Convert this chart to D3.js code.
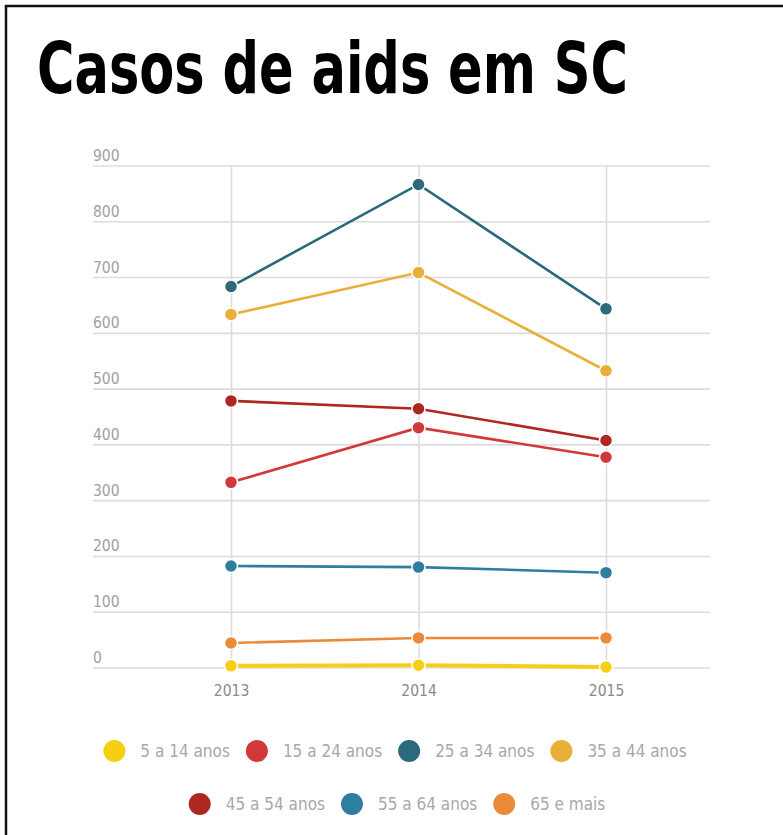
<!DOCTYPE html>
<html>
<head>
<meta charset="utf-8">
<script src="https://cdnjs.cloudflare.com/ajax/libs/d3/7.8.5/d3.min.js"></script>
<style>
  body { margin: 0; background: #fff; }
  svg { display: block; }
  .narrow { font-family: "Liberation Sans Narrow", "DejaVu Sans Condensed", "Roboto", sans-serif; }
</style>
</head>
<body>
<div id="chart"></div>
<script>
var years = [2013, 2014, 2015];
var yTicks = [0, 100, 200, 300, 400, 500, 600, 700, 800, 900];

var grupos = ["5 a 14 anos", "15 a 24 anos", "25 a 34 anos", "35 a 44 anos",
              "45 a 54 anos", "55 a 64 anos", "65 e mais"];
var cores = ["#f6cf14", "#d1383a", "#2a6a7b", "#e9af3b", "#ae2820", "#2e7ea0", "#ec8a3b"];

var v5a14 = [3, 4, 1];
var v15a24 = [332, 430, 377];
var v25a34 = [683, 866, 643];
var v35a44 = [633, 708, 532];
var v45a54 = [478, 464, 407];
var v55a64 = [182, 180, 170];
var v65mais = [44, 53, 53];

var series = [v5a14, v15a24, v25a34, v35a44, v45a54, v55a64, v65mais];

var W = 783, H = 835;

var svg = d3.select("#chart")
  .append("svg")
  .attr("width", W)
  .attr("height", H);

svg.append("rect").attr("width", W).attr("height", H).attr("fill", "#fff");

// moldura (top + left)
svg.append("path")
  .attr("d", "M6,835 L6,6 L783,6")
  .attr("fill", "none")
  .attr("stroke", "#111")
  .attr("stroke-width", 2.5);

// titulo - squeeze to the width of the original
var title = svg.append("text")
  .attr("x", 0)
  .attr("y", 0)
  .attr("class", "narrow")
  .style("font-size", "72px")
  .style("font-weight", "bold")
  .attr("fill", "#000")
  .text("Casos de aids em SC");
var tw = title.node().getComputedTextLength();
title.attr("transform", "translate(37,93) scale(" + (591 / tw) + ",1)");

var gridLeft = 93, gridRight = 710;

var x = d3.scaleLinear()
  .domain([2013, 2015])
  .range([231, 606]);

var y = d3.scaleLinear()
  .domain([0, 900])
  .range([667.5, 165.5]);

// grade horizontal
var yAxis = d3.axisRight(y)
  .tickValues(yTicks)
  .tickSize(gridRight - gridLeft)
  .tickFormat(d3.format("d"));

var gy = svg.append("g")
  .attr("transform", "translate(" + gridLeft + ",0)")
  .call(yAxis);

gy.select(".domain").remove();
gy.selectAll(".tick line")
  .attr("stroke", "#dcdcdc")
  .attr("stroke-width", 1.6);
gy.selectAll(".tick text")
  .attr("x", 0)
  .attr("dy", -5)
  .attr("text-anchor", "start")
  .attr("class", "narrow")
  .style("font-size", "15.5px")
  .attr("fill", "#a0a0a0");

// grade vertical + anos
var xAxis = d3.axisBottom(x)
  .tickValues(years)
  .tickSize(-(y(0) - y(900)))
  .tickFormat(d3.format("d"));

var gx = svg.append("g")
  .attr("transform", "translate(0," + y(0) + ")")
  .call(xAxis);

gx.select(".domain").remove();
gx.selectAll(".tick line")
  .attr("stroke", "#dcdcdc")
  .attr("stroke-width", 1.6);
gx.selectAll(".tick text")
  .attr("y", 0)
  .attr("dy", 28)
  .attr("class", "narrow")
  .style("font-size", "15.5px")
  .attr("fill", "#8a8a8a");

// linhas
var line = d3.line()
  .x(function(d, i) { return x(years[i]); })
  .y(function(d) { return y(d); });

series.forEach(function(s, k) {
  svg.append("path")
    .datum(s)
    .attr("d", line)
    .attr("fill", "none")
    .attr("stroke", cores[k])
    .attr("stroke-width", k === 0 ? 4 : 2.6);
});

series.forEach(function(s, k) {
  svg.selectAll(".pt" + k)
    .data(s)
    .enter()
    .append("circle")
    .attr("cx", function(d, i) { return x(years[i]); })
    .attr("cy", function(d) { return y(d); })
    .attr("r", 6.5)
    .attr("fill", cores[k])
    .attr("stroke", "#fff")
    .attr("stroke-width", 1.5);
});

// legenda
var rows = [[0, 1, 2, 3], [4, 5, 6]];
var rowY = [751, 804];
var rowCenter = [395, 397];

rows.forEach(function(row, r) {
  var g = svg.append("g");
  var cx = 0;
  row.forEach(function(k, j) {
    var item = g.append("g").attr("transform", "translate(" + cx + ",0)");
    item.append("circle")
      .attr("cx", 11)
      .attr("cy", 0)
      .attr("r", 11)
      .attr("fill", cores[k]);
    var t = item.append("text")
      .attr("x", 37)
      .attr("y", 6)
      .attr("class", "narrow")
      .style("font-size", "17px")
      .attr("fill", "#a8a8a8")
      .text(grupos[k]);
    cx += 37 + t.node().getComputedTextLength() + 16;
  });
  var wRow = cx - 16;
  g.attr("transform", "translate(" + (rowCenter[r] - wRow / 2) + "," + rowY[r] + ")");
});
</script>
</body>
</html>
